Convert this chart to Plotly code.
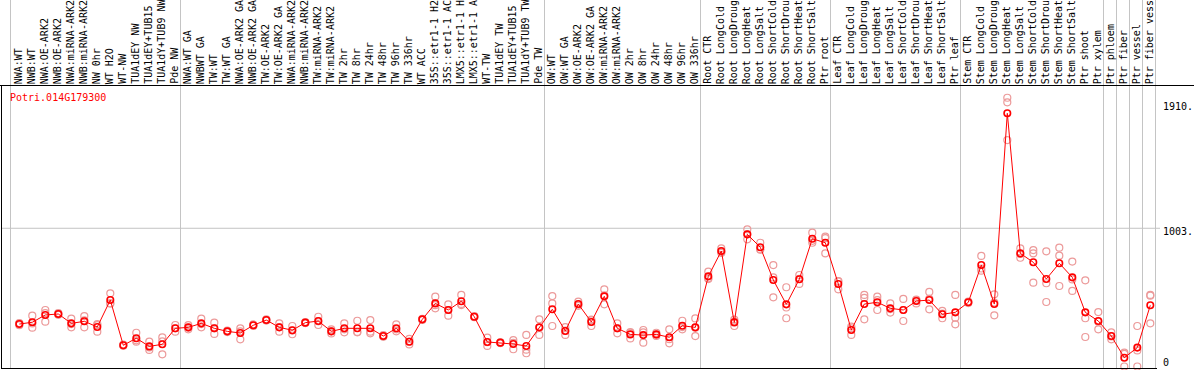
import plotly.graph_objects as go

gene = "Potri.014G179300"

samples = [
    "NWA:WT", "NWB:WT", "NWA:OE-ARK2", "NWB:OE-ARK2", "NWA:miRNA-ARK2", "NWB:miRNA-ARK2",
    "NW 0hr", "WT H2O", "WT-NW", "TUA1dEY NW", "TUA1dEY+TUB15 NW", "TUA1dY+TUB9 NW", "Pde NW",
    "NWA:WT GA", "NWBWT GA", "TW:WT", "TW:WT GA", "NWA:OE-ARK2 GA", "NWB:OE-ARK2 GA",
    "TW:OE-ARK2", "TW:OE-ARK2 GA", "NWA:miRNA-ARK2", "NWB:miRNA-ARK2", "TW:miRNA-ARK2",
    "TW:miRNA-ARK2", "TW 2hr", "TW 8hr", "TW 24hr", "TW 48hr", "TW 96hr", "TW 336hr",
    "WT ACC", "35S::etr1-1 H2O", "35S::etr1-1 ACC", "LMX5::etr1-1 H2O", "LMX5::etr1-1 ACC",
    "WT-TW", "TUA1dEY TW", "TUA1dEY+TUB15 TW", "TUA1dY+TUB9 TW", "Pde TW",
    "OW:WT", "OW:WT GA", "OW:OE-ARK2", "OW:OE-ARK2 GA", "OW:miRNA-ARK2", "OW:miRNA-ARK2",
    "OW 2hr", "OW 8hr", "OW 24hr", "OW 48hr", "OW 96hr", "OW 336hr",
    "Root CTR", "Root LongCold", "Root LongDrought", "Root LongHeat", "Root LongSalt",
    "Root ShortCold", "Root ShortDrought", "Root ShortHeat", "Root ShortSalt", "Ptr root",
    "Leaf CTR", "Leaf LongCold", "Leaf LongDrought", "Leaf LongHeat", "Leaf LongSalt",
    "Leaf ShortCold", "Leaf ShortDrought", "Leaf ShortHeat", "Leaf ShortSalt", "Ptr leaf",
    "Stem CTR", "Stem LongCold", "Stem LongDrought", "Stem LongHeat", "Stem LongSalt",
    "Stem ShortCold", "Stem ShortDrought", "Stem ShortHeat", "Stem ShortSalt", "Ptr shoot",
    "Ptr xylem", "Ptr phloem", "Ptr fiber", "Ptr vessel", "Ptr fiber vessel",
]

# group boundaries (index of first sample of each group, plus end)
group_starts = [0, 13, 41, 53, 63, 73, 84, 85, 86, 87, 88]

means = [308, 321, 374, 381, 313, 328, 287, 482, 154, 205, 146, 161, 277,
         284, 313, 277, 255, 243, 299, 337, 284, 263, 318, 330, 255, 277, 277, 277,
         221, 277, 180, 342, 458, 410, 473, 361, 178, 173, 163, 149, 284,
         415, 258, 453, 323, 509, 277, 233, 228, 233, 212, 296, 284,
         654, 838, 320, 959, 865, 628, 451, 633, 927, 898,
         599, 265, 453, 466, 422, 410, 475, 482, 379, 393,
         466, 736, 453, 1837, 821, 756, 635, 749, 647, 393, 330,
         221, 64, 137, 444]

rep1 = [300, 369, 410, 375, 347, 366, 308, 531, 150, 245, 180, 212, 301,
        300, 347, 318, 250, 277, 295, 333, 313, 294, 315, 361, 270, 313, 332, 337,
        215, 306, 200, 338, 507, 451, 519, 358, 209, 170, 192, 229, 342,
        511, 229, 470, 294, 560, 313, 250, 265, 245, 270, 332, 349,
        688, 857, 340, 995, 898, 736, 575, 664, 971, 942,
        620, 229, 519, 507, 458, 490, 458, 541, 403, 519,
        460, 802, 524, 1950, 857, 845, 836, 862, 761, 625, 395,
        248, 100, 294, 514]

rep2 = [312, 282, 325, 388, 284, 284, 253, 458, 158, 180, 120, 88, 253,
        270, 284, 236, 260, 197, 305, 342, 253, 234, 322, 301, 240, 248, 248, 241,
        228, 255, 160, 346, 422, 369, 446, 365, 149, 176, 125, 96, 229,
        458, 285, 440, 340, 451, 241, 204, 173, 222, 168, 270, 221,
        640, 825, 294, 923, 850, 502, 350, 599, 898, 821,
        560, 290, 342, 410, 391, 330, 485, 415, 350, 354,
        470, 695, 371, 1917, 789, 821, 604, 804, 548, 350, 270,
        197, 0, 0, 519]

rep3 = [315, 312, 387, 380, 308, 334, 300, 458, 154, 190, 138, 183, 277,
        282, 308, 277, 255, 255, 297, 336, 286, 261, 317, 328, 255, 270, 251, 253,
        220, 270, 180, 342, 445, 410, 454, 360, 176, 173, 172, 122, 281,
        294, 260, 449, 335, 516, 277, 245, 247, 232, 198, 286, 282,
        634, 832, 326, 959, 847, 646, 428, 636, 912, 931,
        617, 276, 498, 481, 417, 410, 482, 490, 384, 306,
        468, 711, 464, 1643, 817, 608, 468, 584, 632, 214, 325,
        218, 92, 117, 313]

tick_vals = [1910, 1003, 0]
tick_text = ["1910.", "1003.", "0"]

W, H = 1194, 370
# pixel <-> axis helpers (plot area covers the whole figure)
X0, DX = 19.3, 13.0          # pixel centre of sample 0, pixel step
Y0, DY = 366.5, 0.13782      # pixel of value 0, pixels per unit


def X(p):
    return (p - X0) / DX


def Y(p):
    return (Y0 - p) / DY


idx = list(range(len(samples)))

fig = go.Figure()

rx, ry = [], []
for r in (rep1, rep2, rep3):
    rx += idx
    ry += r
fig.add_trace(go.Scatter(
    x=rx, y=ry, mode="markers", hoverinfo="skip",
    marker=dict(symbol="circle-open", size=7, color="#ec9a9a",
                line=dict(width=1.2, color="#ec9a9a")),
    showlegend=False, cliponaxis=True))

fig.add_trace(go.Scatter(
    x=idx, y=means, mode="lines+markers",
    line=dict(color="#ff0000", width=1),
    marker=dict(symbol="circle-open", size=6.5, color="#ff0000",
                line=dict(width=1.6, color="#ff0000")),
    showlegend=False))

shapes = []
# group separators
for k in group_starts:
    px = 10.5 if k == 0 else 11.5 + 13 * k
    shapes.append(dict(type="line", xref="x", yref="y",
                       x0=X(px), x1=X(px), y0=Y(368.5), y1=Y(0),
                       line=dict(color="#c4c4c4", width=1), layer="below"))
# grid line at 1003
shapes.append(dict(type="line", xref="x", yref="y", x0=X(1.5), x1=X(1160),
                   y0=tick_vals[1], y1=tick_vals[1],
                   line=dict(color="#c4c4c4", width=1), layer="below"))
# frame
shapes.append(dict(type="line", xref="x", yref="y", x0=X(0), x1=X(1194),
                   y0=Y(85.5), y1=Y(85.5), line=dict(color="black", width=1)))
shapes.append(dict(type="line", xref="x", yref="y", x0=X(1), x1=X(1157),
                   y0=Y(368.5), y1=Y(368.5), line=dict(color="black", width=1)))
shapes.append(dict(type="line", xref="x", yref="y", x0=X(1.5), x1=X(1.5),
                   y0=Y(85.5), y1=Y(368.5), line=dict(color="black", width=1)))

mono = "DejaVu Sans Mono"
ann = []
for i, s in enumerate(samples):
    ann.append(dict(x=i, y=Y(84), xref="x", yref="y", text=s, showarrow=False,
                    textangle=-90, xanchor="center", yanchor="bottom",
                    xshift=-1, borderpad=0, borderwidth=0,
                    font=dict(family=mono, size=10, color="black")))

ann.append(dict(x=X(10), y=Y(97.5), xref="x", yref="y", text=gene, showarrow=False,
                xanchor="left", yanchor="middle", borderpad=0, borderwidth=0,
                font=dict(family=mono, size=10, color="#ff0000")))

label_px = {1910: 106.7, 1003: 231.7, 0: 362}
for v, t in zip(tick_vals, tick_text):
    ann.append(dict(x=X(1163), y=Y(label_px[v]), xref="x", yref="y", text=t,
                    showarrow=False, xanchor="left", yanchor="middle",
                    borderpad=0, borderwidth=0,
                    font=dict(family=mono, size=10, color="black")))

fig.update_layout(
    width=W, height=H,
    margin=dict(l=0, r=0, t=0, b=0, pad=0),
    paper_bgcolor="white", plot_bgcolor="white",
    xaxis=dict(range=[X(0), X(W)], visible=False, fixedrange=True),
    yaxis=dict(range=[Y(H), Y(0)], visible=False, fixedrange=True),
    shapes=shapes, annotations=ann, showlegend=False,
)

fig.write_html(
    "out.html",
    config={"displayModeBar": False},
    post_script="document.body.style.margin='0';document.body.style.overflow='hidden';",
)
